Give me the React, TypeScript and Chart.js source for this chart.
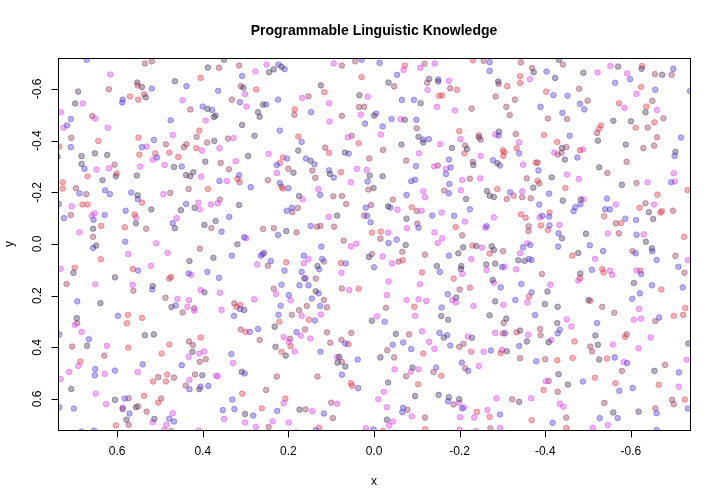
import { useEffect, useRef } from "react"
import { Chart, registerables } from "chart.js"

Chart.register(...registerables)

type Pt = [number, number]

const chartTitle = "Programmable Linguistic Knowledge"
const xTitle = "x"
const yTitle = "y"
const xTicks = [0.6, 0.4, 0.2, 0.0, -0.2, -0.4, -0.6]
const yTicks = [-0.6, -0.4, -0.2, 0.0, 0.2, 0.4, 0.6]
const xRange = [-0.738, 0.738]
const yRange = [-0.72, 0.72]

// points, one list per colour
const grayPts: Pt[] = [
  [0.388,-0.683],[0.553,-0.625],[0.542,-0.608],[0.465,-0.63],[0.691,-0.59],[0.533,-0.568],[0.698,-0.544],[0.389,-0.523],[0.374,-0.492],[0.373,-0.399],[0.652,-0.351],[0.623,-0.345],[0.683,-0.34],[0.394,-0.319],[0.739,-0.338],[0.683,-0.31],[0.467,-0.298],[0.422,-0.278],[0.439,-0.267],[0.429,-0.262],[0.603,-0.262],[0.554,-0.265],[0.634,-0.247],
  [0.35,-0.713],[0.216,-0.686],[0.245,-0.665],[0.234,-0.676],[0.305,-0.605],[0.124,-0.614],[0.259,-0.54],[0.034,-0.576],[0.271,-0.51],[0.267,-0.493],[0.37,-0.497],[0.0,-0.497],[0.308,-0.461],[0.279,-0.419],[0.177,-0.362],[0.068,-0.354],[0.294,-0.341],[0.148,-0.322],[0.188,-0.276],[0.103,-0.271],[0.01,-0.265],
  [-0.034,-0.625],[-0.129,-0.639],[-0.15,-0.629],[-0.109,-0.545],[-0.29,-0.629],[-0.072,-0.481],[-0.104,-0.415],[-0.115,-0.393],[-0.064,-0.385],[-0.182,-0.372],[-0.217,-0.368],[-0.245,-0.413],[-0.292,-0.435],[-0.232,-0.306],[-0.288,-0.313],[-0.02,-0.262],
  [-0.432,-0.713],[-0.373,-0.665],[-0.423,-0.643],[-0.489,-0.663],[-0.57,-0.687],[-0.625,-0.678],[-0.673,-0.655],[-0.634,-0.51],[-0.559,-0.477],[-0.6,-0.475],[-0.523,-0.4],[-0.439,-0.371],[-0.446,-0.327],[-0.588,-0.385],[-0.704,-0.357],[-0.415,-0.258],[-0.526,-0.297],[-0.579,-0.229],
  [0.552,-0.189],[0.52,-0.134],[0.556,-0.08],[0.656,-0.059],[0.649,0.006],[0.451,-0.131],[0.419,-0.14],[0.37,-0.089],[0.465,-0.061],[0.396,-0.074],[0.375,0.053],[0.702,0.111],[0.605,0.129],[0.431,0.066],[0.517,0.163],[0.396,0.187],[0.639,0.229],[0.473,0.244],
  [0.315,-0.151],[0.175,-0.186],[0.001,-0.217],[0.086,-0.11],[0.205,-0.05],[0.319,0.001],[0.132,0.085],[0.012,0.05],[0.136,0.183],[0.303,0.256],
  [-0.264,-0.205],[-0.27,-0.187],[-0.28,-0.182],[-0.033,-0.146],[-0.215,-0.174],[-0.076,-0.098],[-0.074,0.004],[-0.208,0.013],[-0.239,0.008],[-0.275,0.009],[-0.28,0.023],[-0.197,0.036],[-0.337,0.063],[-0.352,0.065],[-0.147,0.085],[-0.204,0.085],[-0.203,0.097],[-0.262,0.079],[-0.283,0.076],[-0.277,0.14],[-0.192,0.207],[-0.283,0.222],
  [-0.372,-0.218],[-0.441,-0.168],[-0.483,-0.172],[-0.642,-0.123],[-0.652,-0.097],[-0.439,-0.022],[-0.495,-0.04],[-0.477,0.035],[-0.635,-0.009],[-0.649,0.017],[-0.482,0.114],[-0.405,0.184],[-0.607,0.151],[-0.501,0.217],[-0.399,0.233],[-0.429,0.243],
  [0.694,0.287],[0.67,0.394],[0.535,0.353],[0.514,0.35],[0.424,0.417],[0.401,0.508],[0.408,0.562],[0.707,0.561],[0.605,0.603],[0.587,0.639],[0.556,0.632],[0.578,0.68],[0.513,0.677],
  [0.232,0.32],[0.23,0.398],[0.206,0.432],[0.005,0.297],[0.081,0.437],[0.085,0.459],[0.067,0.474],[0.309,0.495],[0.301,0.658],[0.174,0.641],
  [-0.157,0.279],[-0.173,0.293],[-0.27,0.276],[-0.309,0.289],[-0.051,0.348],[-0.163,0.362],[-0.229,0.363],[-0.341,0.335],[-0.357,0.377],[-0.31,0.415],[-0.015,0.439],[-0.09,0.478],[-0.033,0.536],[-0.096,0.589],[-0.151,0.584],[-0.175,0.593],[-0.199,0.601],[-0.03,0.68],[-0.339,0.611],
  [-0.428,0.306],[-0.408,0.38],[-0.517,0.354],[-0.523,0.39],[-0.734,0.385],[-0.526,0.447],[-0.655,0.491],[-0.431,0.504],[-0.453,0.544],[-0.559,0.652],[-0.618,0.649],
]

const bluePts: Pt[] = [
  [0.671,-0.713],[0.438,-0.611],[0.519,-0.602],[0.587,-0.559],[0.588,-0.548],[0.4,-0.532],[0.378,-0.519],[0.708,-0.484],[0.717,-0.459],[0.475,-0.479],[0.514,-0.403],[0.708,-0.375],[0.542,-0.375],[0.507,-0.335],[0.676,-0.291],[0.449,-0.3],
  [0.223,-0.695],[0.209,-0.677],[0.308,-0.65],[0.029,-0.713],[0.364,-0.593],[0.313,-0.549],[0.252,-0.54],[0.224,-0.559],[0.147,-0.51],[0.021,-0.466],[0.22,-0.439],[0.169,-0.395],[0.059,-0.35],[0.203,-0.331],[0.227,-0.306],[0.159,-0.331],[0.139,-0.309],[0.105,-0.285],[0.094,-0.257],[0.361,-0.244],[0.315,-0.266],[0.22,-0.236],[0.015,-0.242],
  [-0.013,-0.701],[-0.054,-0.655],[-0.15,-0.637],[-0.065,-0.558],[-0.093,-0.558],[-0.27,-0.704],[-0.27,-0.67],[-0.005,-0.505],[-0.041,-0.484],[-0.099,-0.481],[-0.02,-0.455],[-0.115,-0.404],[-0.128,-0.406],[-0.291,-0.42],[-0.339,-0.351],[-0.175,-0.327],[-0.278,-0.324],[-0.294,-0.304],[-0.098,-0.302],[-0.179,-0.296],[-0.168,-0.271],[-0.096,-0.249],[-0.087,-0.243],[-0.176,-0.232],
  [-0.403,-0.668],[-0.699,-0.678],[-0.598,-0.638],[-0.563,-0.624],[-0.657,-0.597],[-0.419,-0.576],[-0.452,-0.574],[-0.738,-0.592],[-0.481,-0.543],[-0.491,-0.521],[-0.389,-0.531],[-0.44,-0.508],[-0.457,-0.419],[-0.717,-0.412],[-0.475,-0.335],[-0.702,-0.341],[-0.384,-0.285],[-0.694,-0.239],
  [0.688,-0.196],[0.628,-0.208],[0.617,-0.193],[0.567,-0.199],[0.552,-0.174],[0.736,-0.155],[0.724,-0.1],[0.655,-0.094],[0.629,-0.112],[0.58,-0.129],[0.656,0.015],[0.581,-0.009],[0.439,-0.155],[0.47,-0.08],[0.551,0.103],[0.389,0.108],[0.433,0.114],[0.518,0.176],[0.693,0.222],[0.463,0.238],
  [0.288,-0.22],[0.2,-0.216],[0.126,-0.19],[0.019,-0.141],[0.204,-0.129],[0.192,-0.14],[0.338,-0.105],[0.016,-0.109],[0.008,-0.084],[0.356,-0.048],[0.303,-0.026],[0.224,-0.035],[0.148,-0.07],[0.123,0.01],[0.332,0.045],[0.264,0.045],[0.257,0.035],[0.241,0.066],[0.164,0.045],[0.121,0.058],[0.128,0.098],[0.066,0.075],[0.0,0.09],[0.362,0.131],[0.209,0.103],[0.169,0.108],[0.16,0.133],[0.216,0.158],[0.174,0.16],[0.153,0.16],[0.199,0.198],[0.129,0.191],[0.145,0.211],[0.313,0.252],[0.218,0.239],[0.126,0.24],
  [-0.175,-0.196],[-0.318,-0.2],[-0.076,-0.19],[-0.038,-0.141],[-0.224,-0.134],[-0.136,-0.11],[-0.187,-0.109],[-0.104,-0.063],[-0.263,-0.069],[-0.034,-0.004],[-0.053,-0.017],[-0.348,0.013],[-0.365,0.004],[-0.175,0.045],[-0.362,0.058],[-0.368,0.062],[-0.154,0.108],[-0.299,0.089],[-0.296,0.168],[-0.344,0.155],[-0.172,0.194],[-0.33,0.217],[-0.368,0.187],[-0.158,0.246],
  [-0.409,-0.195],[-0.544,-0.176],[-0.386,-0.153],[-0.393,-0.109],[-0.409,-0.106],[-0.482,-0.154],[-0.47,-0.142],[-0.466,-0.127],[-0.54,-0.134],[-0.551,-0.134],[-0.587,-0.098],[-0.612,-0.093],[-0.41,-0.072],[-0.431,-0.041],[-0.613,-0.036],[-0.43,0.01],[-0.504,0.005],[-0.535,0.027],[-0.611,0.036],[-0.65,0.028],[-0.66,0.062],[-0.509,0.1],[-0.624,0.116],[-0.649,0.16],[-0.621,0.191],[-0.603,0.212],[-0.711,0.088],[-0.721,0.168],
  [0.598,0.278],[0.735,0.35],[0.666,0.369],[0.651,0.484],[0.652,0.508],[0.605,0.49],[0.54,0.466],[0.449,0.469],[0.431,0.562],[0.405,0.552],[0.387,0.549],[0.735,0.632],[0.701,0.637],[0.582,0.598],[0.571,0.656],[0.478,0.676],[0.467,0.687],[0.683,0.726],[0.654,0.722],
  [0.327,0.278],[0.223,0.274],[0.138,0.296],[0.29,0.34],[0.271,0.329],[0.181,0.341],[0.067,0.385],[0.125,0.417],[0.038,0.447],[0.333,0.426],[0.302,0.501],[0.075,0.506],[0.037,0.558],[0.331,0.602],[0.353,0.643],[0.326,0.639],[0.282,0.664],[0.226,0.646],[0.117,0.656],[0.136,0.72],[0.001,0.718],
  [-0.025,0.301],[-0.153,0.344],[-0.171,0.353],[-0.044,0.39],[-0.068,0.381],[-0.087,0.407],[-0.178,0.393],[-0.273,0.412],[-0.306,0.346],[-0.339,0.395],[-0.145,0.478],[-0.205,0.459],[-0.22,0.491],[-0.173,0.609],[-0.206,0.636],[-0.068,0.634],[-0.066,0.651],[-0.294,0.66],
  [-0.376,0.275],[-0.434,0.332],[-0.429,0.346],[-0.521,0.306],[-0.666,0.285],[-0.379,0.454],[-0.562,0.439],[-0.591,0.461],[-0.712,0.497],[-0.488,0.532],[-0.573,0.568],[-0.604,0.557],[-0.569,0.674],[-0.527,0.674],[-0.66,0.655],[-0.733,0.637],[-0.417,0.692],[-0.66,0.72],
]

const redPts: Pt[] = [
  [0.552,-0.614],[0.405,-0.643],[0.57,-0.571],[0.537,-0.58],[0.551,-0.559],[0.408,-0.439],[0.644,-0.399],[0.55,-0.412],[0.735,-0.377],[0.415,-0.371],[0.478,-0.354],[0.511,-0.351],[0.548,-0.346],[0.457,-0.337],[0.601,-0.273],[0.669,-0.262],[0.727,-0.239],
  [0.029,-0.646],[0.275,-0.598],[0.116,-0.588],[0.185,-0.521],[0.177,-0.416],[0.036,-0.39],[0.105,-0.353],[0.213,-0.335],[0.22,-0.313],[0.077,-0.278],[0.319,-0.252],
  [-0.072,-0.691],[-0.194,-0.597],[-0.152,-0.574],[-0.159,-0.575],[-0.231,-0.711],[-0.311,-0.611],[-0.341,-0.649],[-0.341,-0.623],[-0.199,-0.437],[-0.211,-0.351],[-0.245,-0.421],[-0.301,-0.363],[-0.304,-0.355],[-0.333,-0.371],[-0.302,-0.341],
  [-0.626,-0.689],[-0.624,-0.608],[-0.402,-0.59],[-0.572,-0.545],[-0.636,-0.532],[-0.655,-0.471],[-0.53,-0.459],[-0.526,-0.446],[-0.611,-0.45],[-0.397,-0.422],[-0.428,-0.395],[-0.481,-0.363],[-0.378,-0.315],[-0.382,-0.244],
  [0.727,-0.215],[0.542,-0.16],[0.388,-0.213],[0.681,-0.153],[0.669,-0.153],[0.559,-0.114],[0.582,-0.065],[0.637,-0.07],[0.638,0.059],[0.699,0.092],[0.563,0.097],[0.474,0.128],
  [0.213,-0.215],[0.005,-0.044],[0.205,0.071],[0.077,0.074],[0.036,0.173],[0.312,0.236],[0.321,0.243],
  [-0.288,-0.213],[-0.326,-0.187],[-0.088,-0.142],[-0.343,-0.115],[-0.354,-0.102],[-0.191,-0.066],[-0.016,-0.048],[-0.23,0.006],[-0.27,0.037],[-0.067,0.063],[-0.112,0.11],[-0.186,0.134],[-0.224,0.169],[-0.362,0.203],[-0.094,0.243],
  [-0.447,-0.217],[-0.732,-0.209],[-0.41,-0.122],[-0.537,-0.107],[-0.62,-0.14],[-0.662,-0.191],[-0.669,-0.122],[-0.672,-0.127],[-0.577,-0.081],[-0.406,-0.054],[-0.39,-0.072],[-0.463,0.045],[-0.724,-0.028],[-0.533,0.097],[-0.536,0.11],[-0.481,0.132],[-0.622,0.103],[-0.671,0.176],[-0.505,0.22],[-0.727,0.248],
  [0.575,0.274],[0.577,0.307],[0.542,0.286],[0.574,0.401],[0.478,0.389],[0.496,0.424],[0.405,0.362],[0.686,0.455],[0.516,0.532],[0.483,0.505],[0.486,0.532],[0.537,0.587],[0.504,0.614],[0.603,0.702],
  [0.152,0.293],[0.221,0.301],[0.3,0.34],[0.195,0.395],[0.216,0.417],[0.06,0.388],[0.054,0.539],[0.051,0.549],[0.308,0.579],[0.207,0.598],[0.262,0.636],[0.128,0.711],
  [-0.115,0.424],[-0.227,0.417],[-0.301,0.346],[-0.333,0.342],[-0.296,0.422],[-0.157,0.51],[-0.103,0.543],[-0.021,0.724],[-0.119,0.717],[-0.24,0.65],[-0.27,0.669],[-0.368,0.682],
  [-0.468,0.377],[-0.586,0.359],[-0.7,0.278],[-0.722,0.274],[-0.428,0.45],[-0.464,0.441],[-0.544,0.443],[-0.665,0.545],[-0.396,0.565],[-0.516,0.518],[-0.564,0.539],[-0.726,0.602],[-0.449,0.712],
]

const magentaPts: Pt[] = [
  [0.616,-0.656],[0.68,-0.544],[0.447,-0.556],[0.731,-0.51],[0.651,-0.486],[0.725,-0.45],[0.393,-0.478],[0.622,-0.45],[0.47,-0.422],[0.531,-0.377],[0.402,-0.362],[0.517,-0.326],[0.648,-0.288],[0.619,-0.293],[0.546,-0.3],[0.489,-0.306],[0.404,-0.261],
  [0.251,-0.695],[0.277,-0.668],[0.094,-0.699],[0.301,-0.58],[0.298,-0.532],[0.168,-0.565],[0.105,-0.545],[0.015,-0.57],[0.031,-0.501],[0.104,-0.474],[0.328,-0.41],[0.361,-0.371],[0.061,-0.413],[0.246,-0.349],[0.323,-0.32],[0.04,-0.291],[0.017,-0.287],[0.227,-0.275],[0.344,-0.244],[0.054,-0.239],
  [-0.069,-0.674],[-0.108,-0.682],[-0.142,-0.699],[-0.175,-0.632],[-0.125,-0.596],[-0.147,-0.531],[-0.189,-0.517],[-0.364,-0.638],[-0.062,-0.483],[-0.016,-0.424],[-0.154,-0.386],[-0.202,-0.406],[-0.283,-0.424],[-0.339,-0.394],[-0.249,-0.341],[-0.105,-0.351],[-0.348,-0.307],[-0.14,-0.3],[-0.168,-0.291],[-0.206,-0.248],[-0.248,-0.254],
  [-0.522,-0.664],[-0.552,-0.689],[-0.591,-0.66],[-0.613,-0.581],[-0.585,-0.527],[-0.661,-0.519],[-0.421,-0.354],[-0.488,-0.366],[-0.451,-0.269],[-0.478,-0.252],[-0.7,-0.274],[-0.703,-0.242],[-0.639,-0.239],
  [0.492,-0.193],[0.706,-0.146],[0.659,-0.11],[0.653,-0.119],[0.556,-0.103],[0.688,-0.045],[0.509,-0.003],[0.574,0.039],[0.461,-0.1],[0.41,-0.16],[0.407,-0.134],[0.381,-0.153],[0.482,0.034],[0.732,0.096],[0.521,0.084],[0.427,0.119],[0.651,0.156],[0.564,0.158],[0.405,0.178],[0.459,0.213],[0.432,0.218],[0.436,0.243],
  [0.13,-0.213],[0.365,-0.158],[0.167,-0.173],[0.106,-0.105],[0.299,-0.022],[0.054,0.009],[0.041,-0.001],[0.273,0.079],[0.153,0.058],[0.164,0.075],[0.076,0.111],[0.229,0.194],[0.195,0.218],[0.058,0.178],[0.36,0.189],[0.28,0.214],
  [-0.115,-0.204],[-0.119,-0.181],[-0.203,-0.208],[-0.346,-0.204],[-0.055,-0.133],[-0.111,-0.129],[-0.158,-0.122],[-0.28,-0.103],[-0.077,-0.061],[-0.212,-0.087],[-0.26,-0.063],[-0.033,-0.044],[-0.141,-0.045],[-0.159,-0.022],[-0.149,-0.004],[-0.252,0.014],[-0.358,-0.003],[-0.341,0.036],[-0.02,0.048],[-0.227,0.058],[-0.042,0.075],[-0.206,0.115],[-0.263,0.101],[-0.305,0.088],[-0.332,0.098],[-0.034,0.145],[-0.107,0.156],[-0.28,0.15],[-0.03,0.198],[-0.076,0.217],[-0.104,0.214],[-0.122,0.221],[-0.183,0.217],[-0.191,0.226],[-0.232,0.24],[-0.302,0.235],[-0.358,0.226],
  [-0.489,-0.173],[-0.565,-0.153],[-0.387,-0.103],[-0.654,-0.153],[-0.433,-0.074],[-0.546,-0.041],[-0.63,-0.038],[-0.516,0.057],[-0.733,0.063],[-0.551,0.103],[-0.556,0.119],[-0.477,0.141],[-0.412,0.158],[-0.613,0.103],[-0.619,0.251],
  [0.699,0.313],[0.683,0.34],[0.42,0.258],[0.624,0.394],[0.433,0.437],[0.408,0.424],[0.397,0.416],[0.691,0.472],[0.712,0.495],[0.732,0.523],[0.629,0.503],[0.552,0.496],[0.431,0.526],[0.369,0.51],[0.65,0.579],[0.626,0.62],[0.587,0.633],[0.517,0.69],[0.47,0.655],[0.485,0.7],[0.49,0.72],[0.409,0.722],
  [0.356,0.255],[0.169,0.278],[0.124,0.273],[0.211,0.36],[0.199,0.379],[0.171,0.355],[0.149,0.366],[0.185,0.416],[0.086,0.438],[0.329,0.461],[0.365,0.512],[0.211,0.616],[0.35,0.677],[0.144,0.647],[0.086,0.618],[0.301,0.691],[0.276,0.708],[0.237,0.686],[0.199,0.691],[0.181,0.729],[0.019,0.713],
  [-0.007,0.28],[-0.096,0.278],[-0.112,0.338],[-0.129,0.379],[-0.141,0.406],[-0.219,0.358],[-0.256,0.417],[-0.283,0.344],[-0.36,0.351],[-0.299,0.41],[-0.048,0.485],[-0.086,0.494],[-0.104,0.485],[-0.245,0.472],[-0.023,0.572],[-0.01,0.601],[-0.199,0.615],[-0.21,0.633],[-0.03,0.632],[-0.088,0.667],[-0.044,0.687],[-0.035,0.703],[-0.201,0.671],[-0.234,0.672],[-0.265,0.643],[-0.286,0.597],[-0.367,0.597],[-0.2,0.718],[-0.294,0.711],[-0.238,0.724],
  [-0.45,0.292],[-0.461,0.319],[-0.414,0.371],[-0.558,0.389],[-0.607,0.293],[-0.624,0.289],[-0.646,0.362],[-0.618,0.404],[-0.583,0.457],[-0.73,0.448],[-0.712,0.552],[-0.401,0.531],[-0.434,0.618],[-0.442,0.63],[-0.511,0.711],[-0.546,0.701],
]

const rosePts: Pt[] = [
  [0.535,-0.699],[0.519,-0.707],[0.619,-0.599],[0.429,-0.521],[0.658,-0.495],[0.707,-0.411],[0.414,-0.415],[0.39,-0.393],[0.486,-0.386],[0.438,-0.386],[0.444,-0.375],[0.606,-0.307],
  [0.315,-0.691],[0.362,-0.682],[0.075,-0.691],[0.044,-0.707],[0.311,-0.611],[0.332,-0.559],[0.153,-0.572],[0.035,-0.53],[0.023,-0.531],[0.186,-0.5],[0.075,-0.496],[0.341,-0.408],[0.052,-0.419],[0.114,-0.373],[0.358,-0.314],[0.011,-0.331],[0.2,-0.291],[0.144,-0.284],[0.339,-0.289],[0.137,-0.256],[0.314,-0.239],[0.248,-0.247],
  [-0.118,-0.698],[-0.047,-0.61],[-0.124,-0.624],[-0.178,-0.603],[-0.228,-0.524],[-0.256,-0.709],[-0.343,-0.703],[-0.291,-0.62],[-0.369,-0.681],[-0.284,-0.571],[-0.329,-0.559],[-0.309,-0.531],[-0.317,-0.499],[-0.1,-0.448],[-0.213,-0.381],[-0.249,-0.404],[-0.331,-0.426],[-0.021,-0.364],[-0.075,-0.323],[-0.231,-0.318],[-0.149,-0.304],[-0.224,-0.253],[-0.357,-0.254],
  [-0.441,-0.695],[-0.656,-0.658],[-0.695,-0.655],[-0.479,-0.601],[-0.499,-0.555],[-0.65,-0.554],[-0.406,-0.486],[-0.451,-0.484],[-0.676,-0.487],[-0.521,-0.43],[-0.639,-0.451],[-0.449,-0.375],[-0.438,-0.353],[-0.429,-0.346],[-0.629,-0.371],[-0.654,-0.381],[-0.661,-0.413],[-0.382,-0.315],[-0.545,-0.275],[-0.59,-0.318],[-0.386,-0.234],[-0.613,-0.236],
  [0.696,-0.216],[0.672,-0.193],[0.476,-0.198],[0.433,-0.213],[0.708,-0.112],[0.532,-0.059],[0.656,-0.028],[0.38,-0.062],[0.407,0.018],[0.478,0.134],[0.718,0.155],[0.562,0.181],[0.487,0.208],[0.42,0.249],
  [0.216,-0.222],[0.36,-0.172],[0.095,-0.185],[0.075,-0.186],[0.065,-0.155],[0.013,-0.211],[0.007,-0.151],[0.191,-0.124],[0.178,-0.14],[0.023,-0.11],[0.259,-0.058],[0.234,-0.061],[0.181,-0.045],[0.133,-0.067],[0.125,-0.07],[0.093,-0.067],[0.071,-0.013],[0.26,0.039],[0.248,0.084],[0.117,0.068],[0.005,0.039],[0.163,0.133],[0.136,0.134],[0.234,0.173],[0.117,0.217],[0.075,0.172],[0.326,0.23],[0.157,0.24],[0.11,0.245],[0.175,0.256],
  [-0.164,-0.207],[-0.31,-0.174],[-0.346,-0.181],[-0.366,-0.177],[-0.044,-0.172],[-0.1,-0.128],[-0.101,-0.079],[-0.361,-0.069],[-0.361,-0.05],[-0.015,-0.021],[-0.206,-0.034],[-0.301,0.028],[-0.066,0.03],[-0.119,0.041],[-0.058,0.068],[-0.2,0.176],[-0.028,0.247],
  [-0.634,-0.158],[-0.698,-0.129],[-0.565,-0.08],[-0.572,-0.041],[-0.604,0.028],[-0.704,0.046],[-0.392,0.116],[-0.725,0.111],[-0.533,0.243],
  [0.693,0.306],[0.447,0.265],[0.705,0.397],[0.63,0.432],[0.432,0.377],[0.423,0.391],[0.393,0.446],[0.407,0.456],[0.504,0.515],[0.467,0.517],[0.44,0.548],[0.418,0.505],[0.573,0.597],[0.497,0.598],[0.551,0.628],[0.531,0.649],[0.573,0.7],[0.473,0.724],
  [0.192,0.274],[0.311,0.331],[0.267,0.372],[0.196,0.367],[0.161,0.331],[0.11,0.342],[0.102,0.382],[0.053,0.344],[0.076,0.371],[0.075,0.456],[0.227,0.513],[0.132,0.513],[0.252,0.565],[0.16,0.64],[0.1,0.614],[0.096,0.674],[0.246,0.708],
  [-0.303,0.305],[-0.082,0.35],[-0.031,0.411],[-0.199,0.398],[-0.209,0.386],[-0.341,0.442],[-0.047,0.439],[-0.075,0.512],[-0.139,0.496],[-0.213,0.481],[-0.186,0.621],[-0.078,0.642],[-0.119,0.672],[-0.323,0.601],[-0.272,0.714],
  [-0.388,0.329],[-0.389,0.353],[-0.561,0.266],[-0.59,0.35],[-0.505,0.397],[-0.509,0.416],[-0.657,0.298],[-0.4,0.446],[-0.579,0.491],[-0.68,0.468],[-0.408,0.53],[-0.429,0.572],[-0.538,0.615],[-0.657,0.636],[-0.696,0.603],[-0.7,0.62],[-0.449,0.672],
]

const seriesList = [
  { label: "gray", points: grayPts, rgb: "70,52,92" },
  { label: "blue", points: bluePts, rgb: "80,56,226" },
  { label: "red", points: redPts, rgb: "232,54,72" },
  { label: "magenta", points: magentaPts, rgb: "222,60,240" },
  { label: "rose", points: rosePts, rgb: "156,58,90" },
]

const fmt = (v: number) => v.toFixed(1)

// R-style box, ticks and labels
const rAxes = {
  id: "rAxes",
  afterDraw(chart: Chart) {
    const { ctx, chartArea: a } = chart
    const xs = chart.scales.x
    const ys = chart.scales.y
    ctx.save()
    ctx.strokeStyle = "#000"
    ctx.fillStyle = "#000"
    ctx.lineWidth = 1
    ctx.strokeRect(Math.round(a.left) + 0.5, Math.round(a.top) + 0.5, Math.round(a.right - a.left), Math.round(a.bottom - a.top))

    const bottom = Math.round(a.bottom) + 0.5
    const left = Math.round(a.left) + 0.5
    ctx.beginPath()
    xTicks.forEach((t) => {
      const px = Math.round(xs.getPixelForValue(t)) + 0.5
      ctx.moveTo(px, bottom)
      ctx.lineTo(px, bottom + 7)
    })
    yTicks.forEach((t) => {
      const py = Math.round(ys.getPixelForValue(t)) + 0.5
      ctx.moveTo(left, py)
      ctx.lineTo(left - 7, py)
    })
    ctx.stroke()

    ctx.font = "12px 'Liberation Sans', Arial, sans-serif"
    ctx.textAlign = "center"
    ctx.textBaseline = "middle"
    xTicks.forEach((t) => {
      ctx.fillText(fmt(t), xs.getPixelForValue(t), a.bottom + 22)
    })
    yTicks.forEach((t) => {
      ctx.save()
      ctx.translate(a.left - 20, ys.getPixelForValue(t))
      ctx.rotate(-Math.PI / 2)
      ctx.fillText(fmt(t), 0, 0)
      ctx.restore()
    })

    const cx = (a.left + a.right) / 2
    const cy = (a.top + a.bottom) / 2
    ctx.fillText(xTitle, cx, a.bottom + 52)
    ctx.save()
    ctx.translate(a.left - 48, cy)
    ctx.rotate(-Math.PI / 2)
    ctx.fillText(yTitle, 0, 0)
    ctx.restore()

    ctx.font = "bold 14px 'Liberation Sans', Arial, sans-serif"
    ctx.fillText(chartTitle, cx, 31)
    ctx.restore()
  },
}

export default function App() {
  const canvasRef = useRef<HTMLCanvasElement | null>(null)
  const chartInstance = useRef<Chart | null>(null)

  useEffect(() => {
    if (!canvasRef.current) return
    const ctx = canvasRef.current.getContext("2d")
    if (!ctx) return

    chartInstance.current = new Chart(ctx, {
      type: "scatter",
      data: {
        datasets: seriesList.map((s) => ({
          label: s.label,
          data: s.points.map(([x, y]) => ({ x, y })),
          backgroundColor: `rgba(${s.rgb},0.4)`,
          borderColor: `rgba(${s.rgb},0.42)`,
          borderWidth: 1,
          pointRadius: 2.8,
          pointHoverRadius: 2.8,
        })),
      },
      options: {
        responsive: false,
        animation: false,
        layout: { padding: { left: 58, right: 30, top: 58, bottom: 74 } },
        plugins: {
          legend: { display: false },
          tooltip: { enabled: false },
          title: { display: false },
        },
        scales: {
          x: { type: "linear", min: xRange[0], max: xRange[1], reverse: true, display: false },
          y: { type: "linear", min: yRange[0], max: yRange[1], reverse: true, display: false },
        },
      },
      plugins: [rAxes],
    })

    return () => {
      if (chartInstance.current) {
        chartInstance.current.destroy()
        chartInstance.current = null
      }
    }
  }, [])

  return (
    <div style={{ position: "fixed", left: 0, top: 0, width: 720, height: 504, background: "#fff" }}>
      <canvas ref={canvasRef} width={720} height={504} style={{ display: "block" }} />
    </div>
  )
}
